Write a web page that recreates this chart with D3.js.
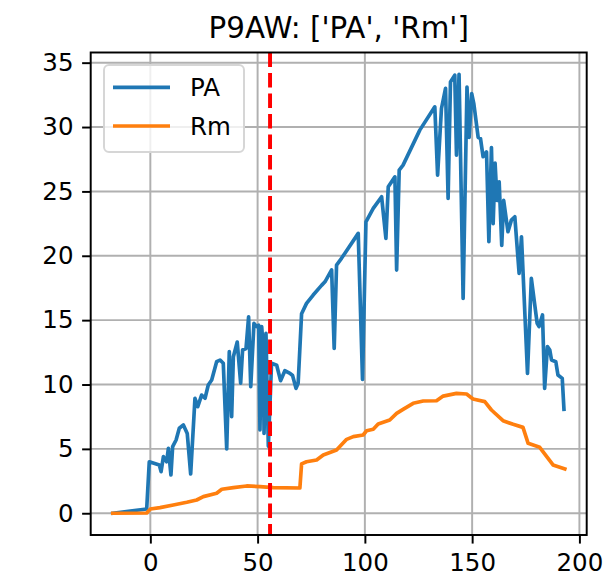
<!DOCTYPE html>
<html>
<head>
<meta charset="utf-8">
<script src="https://d3js.org/d3.v7.min.js"></script>
<style>
  body { margin: 0; background: #fff; }
  svg { font-family: "DejaVu Sans", sans-serif; }
</style>
</head>
<body>
<svg id="chart"></svg>
<script>
// PA readings (day, value)
var paDays = [-17.5, -1.7, -0.5, 4.2, 5, 6.1, 7.6, 8.4, 9.6, 10.4, 12, 13.5, 15.4, 17.2, 18.8,
  20.8, 22.1, 23.9, 25.5, 27, 28.6, 30.9, 32.5, 34, 35.6, 36.8, 37.9, 38.7, 40.5, 42.1, 43,
  44.6, 45.8, 46.8, 48.3, 49.6, 50.5, 51.1, 51.9, 52.6, 53, 53.9, 55, 56.5, 58.9, 60.7, 62.7,
  65.1, 66.3, 67.9, 68.9, 70.5, 72.8, 75.9, 79.8, 81.4, 84.5, 85.7, 86.8, 89.1, 90.7, 96.9,
  98.9, 100.5, 103.9, 107.8, 109.8, 110.9, 114, 114.8, 116, 117.8, 125.6, 132.6, 133.9, 135.7,
  137.6, 138.8, 139.9, 141.9, 142.7, 143.9, 145.8, 147.6, 148.6, 149.8, 150.8, 152.8, 153.9,
  155.1, 156.7, 157.8, 159, 159.8, 160.7, 161.6, 162.6, 163.8, 164.7, 166.7, 168.3, 169.9,
  171.9, 173, 175.8, 177.6, 180.3, 181.2, 182.8, 183.8, 185.1, 186.2, 187, 189, 190, 192, 192.8];
var paValues = [0, 0.33, 4.0, 3.75, 3.23, 4.4, 4.0, 5.04, 2.97, 5.17, 5.69, 6.6, 6.86, 6.2, 3.05,
  8.93, 8.28, 9.18, 8.93, 9.96, 10.35, 11.77, 11.9, 11.65, 5.0, 12.55, 7.5, 12.16, 13.3, 10.1, 12.68,
  12.8, 15.26, 9.83, 14.75, 14.5, 14.6, 6.47, 14.5, 12.9, 6.2, 13.97, 5.2, 11.65, 11.5, 10.3, 11.07,
  10.87, 10.7, 9.7, 10.1, 15.5, 16.3, 16.95, 17.7, 17.98, 18.9, 12.8, 19.28, 19.8, 20.2, 21.74,
  10.4, 22.64, 23.68, 24.58, 21.35, 25.36, 26.13, 18.89, 26.65, 27.04, 29.76, 31.57, 26.27, 31.44,
  33.0, 24.46, 33.5, 34.03, 27.82, 34.1, 16.69, 33.1, 29.2, 32.6, 31.8, 29.2, 29.1,
  27.7, 28.07, 21.1, 28.4, 22.5, 27.2, 24.3, 25.75, 20.8, 24.3, 21.87, 22.77, 23.03,
  18.63, 21.48, 10.87, 18.24, 14.75, 14.5, 15.4, 9.7, 12.94, 12.68, 11.9, 11.77, 10.74, 10.48, 8.07];

// Rm readings (day, value)
var rmDays = [-17.5, -1.7, 0, 4.5, 10.7, 17, 21.6, 24.7, 30.9, 33.3, 38.7, 44.9, 51.1, 57.3, 69.7,
  70.5, 72.8, 77.5, 80.6, 86.8, 91.5, 94.6, 99.2, 100.8, 103.9, 106.2, 111.6, 114.8, 117.8, 122.5,
  127.2, 133.4, 136.5, 142.7, 147.4, 150.4, 155.9, 159, 164.4, 169.1, 173.7, 176.1, 181.5, 187.7, 193.2];
var rmValues = [0, 0.02, 0.33, 0.44, 0.64, 0.85, 1.03, 1.29, 1.55, 1.86, 1.99, 2.12, 2.07, 1.99, 1.96,
  3.83, 4.0, 4.14, 4.53, 4.91, 5.74, 5.95, 6.08, 6.41, 6.52, 6.93, 7.24, 7.76, 8.07, 8.54,
  8.72, 8.74, 9.1, 9.31, 9.26, 8.87, 8.67, 8.02, 7.19, 6.91, 6.67, 5.43, 5.12, 3.75, 3.44];

var markerDay = 55.8;
var xTicks = [0, 50, 100, 150, 200];
var yTicks = [0, 5, 10, 15, 20, 25, 30, 35];
var titleText = "P9AW: ['PA', 'Rm']";

var W = 609, H = 578;
var m = { left: 90.7, right: 22.3, top: 52.5, bottom: 43 };
var iw = W - m.left - m.right, ih = H - m.top - m.bottom;
var fs = 24.5;   // tick / legend font
var pt = 2.45;   // one point in px

var svg = d3.select('#chart').attr('width', W).attr('height', H);

var x = d3.scaleLinear().domain([-27.8, 203.4]).range([0, iw]);
var y = d3.scaleLinear().domain([-1.69, 35.79]).range([ih, 0]);

var g = svg.append('g').attr('transform', 'translate(' + m.left + ',' + m.top + ')');

// grid
g.selectAll('.gx').data(xTicks).enter().append('line')
  .attr('x1', function(d) { return x(d); }).attr('x2', function(d) { return x(d); })
  .attr('y1', 0).attr('y2', ih)
  .attr('stroke', '#b0b0b0').attr('stroke-width', 0.8 * pt);
g.selectAll('.gy').data(yTicks).enter().append('line')
  .attr('y1', function(d) { return y(d); }).attr('y2', function(d) { return y(d); })
  .attr('x1', 0).attr('x2', iw)
  .attr('stroke', '#b0b0b0').attr('stroke-width', 0.8 * pt);

var line = d3.line()
  .x(function(d) { return x(d[0]); })
  .y(function(d) { return y(d[1]); });

var pa = d3.zip(paDays, paValues);
var rm = d3.zip(rmDays, rmValues);

g.append('path').datum(pa).attr('d', line)
  .attr('fill', 'none').attr('stroke', '#1f77b4').attr('stroke-width', 1.5 * pt)
  .attr('stroke-linejoin', 'round').attr('stroke-linecap', 'square');
g.append('path').datum(rm).attr('d', line)
  .attr('fill', 'none').attr('stroke', '#ff7f0e').attr('stroke-width', 1.5 * pt)
  .attr('stroke-linejoin', 'round').attr('stroke-linecap', 'square');

// marker line
g.append('line')
  .attr('x1', x(markerDay)).attr('x2', x(markerDay))
  .attr('y1', 0).attr('y2', ih)
  .attr('stroke', 'red').attr('stroke-width', 1.6 * pt)
  .attr('stroke-dasharray', '14.5,6');

// axes
var xAxis = g.append('g').attr('transform', 'translate(0,' + ih + ')')
  .call(d3.axisBottom(x).tickValues(xTicks).tickSize(3.5 * pt).tickPadding(3.5 * pt).tickFormat(d3.format('d')));
var yAxis = g.append('g')
  .call(d3.axisLeft(y).tickValues(yTicks).tickSize(3.5 * pt).tickPadding(3.5 * pt).tickFormat(d3.format('d')));
[xAxis, yAxis].forEach(function(a) {
  a.select('.domain').remove();
  a.selectAll('line').attr('stroke', '#000').attr('stroke-width', 0.8 * pt);
  a.selectAll('text').attr('font-size', fs).attr('fill', '#000')
    .attr('font-family', '"DejaVu Sans", sans-serif');
});
xAxis.selectAll('text').attr('dy', '0.76em');

// frame
g.append('rect').attr('width', iw).attr('height', ih)
  .attr('fill', 'none').attr('stroke', '#000').attr('stroke-width', 0.8 * pt);

// legend
var lg = g.append('g').attr('transform', 'translate(13.3,12.5)');
lg.append('rect').attr('width', 140).attr('height', 87).attr('rx', 5)
  .attr('fill', '#fff').attr('fill-opacity', 0.8)
  .attr('stroke', '#d6d6d6').attr('stroke-width', 0.8 * pt);
var items = [['PA', '#1f77b4'], ['Rm', '#ff7f0e']];
items.forEach(function(it, i) {
  var yy = 22.3 + i * 38.7;
  lg.append('line').attr('x1', 9).attr('x2', 66).attr('y1', yy).attr('y2', yy)
    .attr('stroke', it[1]).attr('stroke-width', 1.5 * pt);
  lg.append('text').attr('x', 86).attr('y', yy).attr('dy', '0.36em')
    .attr('font-size', fs).attr('fill', '#000').text(it[0]);
});

// title
svg.append('text').attr('x', m.left + iw / 2).attr('y', 37.8)
  .attr('text-anchor', 'middle').attr('font-size', 29.4).attr('fill', '#000')
  .text(titleText);
</script>
</body>
</html>
